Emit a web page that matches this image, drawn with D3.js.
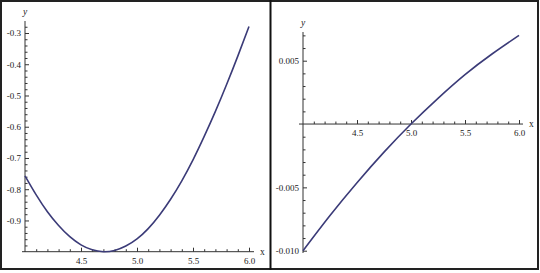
<!DOCTYPE html>
<html>
<head>
<meta charset="utf-8">
<script src="https://cdn.jsdelivr.net/npm/d3@7"></script>
<style>
  body { margin: 0; background: #fff; }
  svg { display: block; }
  .tick text { font-family: "Liberation Serif", serif; font-size: 9px; fill: #1a1a1a; }
</style>
</head>
<body>
<div id="chart"></div>
<script>
// left panel : curve
let leftX = [4.0, 4.1, 4.2, 4.3, 4.4, 4.5, 4.6, 4.7, 4.8, 4.9, 5.0, 5.1, 5.2, 5.3, 5.4, 5.5, 5.6, 5.7, 5.8, 5.9, 6.0];
let leftY = [-0.757, -0.818, -0.872, -0.916, -0.952, -0.978, -0.994, -1.000, -0.996, -0.982, -0.959, -0.926, -0.883, -0.832, -0.773, -0.706, -0.631, -0.551, -0.465, -0.374, -0.279];
let leftXTicks = [4.5, 5.0, 5.5, 6.0];
let leftXTickLabels = ["4.5", "5.0", "5.5", "6.0"];
let leftYTicks = [-0.9, -0.8, -0.7, -0.6, -0.5, -0.4, -0.3];
let leftYTickLabels = ["-0.9", "-0.8", "-0.7", "-0.6", "-0.5", "-0.4", "-0.3"];

// right panel
let rightX = [4.0, 4.25, 4.5, 4.75, 5.0, 5.25, 5.5, 5.75, 6.0];
let rightY = [-0.0100, -0.00722, -0.00463, -0.00222, 0, 0.00203, 0.0039, 0.00553, 0.0070];
let rightXTicks = [4.5, 5.0, 5.5, 6.0];
let rightXTickLabels = ["4.5", "5.0", "5.5", "6.0"];
let rightYTicks = [-0.010, -0.005, 0.005];
let rightYTickLabels = ["-0.010", "-0.005", "0.005"];

let w = 540;
let h = 273;
let curveColor = "#3b3b78";
let axisColor = "#333";

let svg = d3.select("#chart").append("svg")
  .attr("width", w)
  .attr("height", h);

svg.append("rect").attr("width", w).attr("height", h).attr("fill", "#fff");

// minor ticks between majors
function minorTicks(from, to, step, majors){
  let out = [];
  let n = Math.round((to - from) / step);
  for (let i = 0; i <= n; i++){
    let v = +(from + i * step).toFixed(6);
    if (!majors.some(m => Math.abs(m - v) < step / 10)) out.push(v);
  }
  return out;
}

function drawPanel(cfg){
  let g = svg.append("g");

  let x = d3.scaleLinear().domain([4, 6]).range(cfg.xRange);
  let y = d3.scaleLinear().domain(cfg.yDomain).range(cfg.yRange);

  // axis lines
  g.append("line")
    .attr("x1", cfg.xLine[0]).attr("x2", cfg.xLine[1])
    .attr("y1", y(cfg.xAxisAt)).attr("y2", y(cfg.xAxisAt))
    .attr("stroke", axisColor).attr("stroke-width", 1);
  g.append("line")
    .attr("x1", x(4)).attr("x2", x(4))
    .attr("y1", cfg.yLine[0]).attr("y2", cfg.yLine[1])
    .attr("stroke", axisColor).attr("stroke-width", 1);

  // x ticks (pointing up into the plot)
  let xMajor = d3.axisBottom(x)
    .tickValues(cfg.xTicks)
    .tickFormat((d, i) => cfg.xTickLabels[i])
    .tickSizeInner(-4).tickSizeOuter(0).tickPadding(8);
  let xMinor = d3.axisBottom(x)
    .tickValues(minorTicks(4.1, 5.9, 0.1, cfg.xTicks))
    .tickFormat("")
    .tickSizeInner(-2.5).tickSizeOuter(0);

  let gx = g.append("g").attr("transform", "translate(0," + y(cfg.xAxisAt) + ")").call(xMajor);
  let gxm = g.append("g").attr("transform", "translate(0," + y(cfg.xAxisAt) + ")").call(xMinor);

  // y ticks (pointing right into the plot)
  let yMajor = d3.axisLeft(y)
    .tickValues(cfg.yTicks)
    .tickFormat((d, i) => cfg.yTickLabels[i])
    .tickSizeInner(-4).tickSizeOuter(0).tickPadding(4);
  let yMinor = d3.axisLeft(y)
    .tickValues(cfg.yMinor)
    .tickFormat("")
    .tickSizeInner(-2.5).tickSizeOuter(0);

  let gy = g.append("g").attr("transform", "translate(" + x(4) + ",0)").call(yMajor);
  let gym = g.append("g").attr("transform", "translate(" + x(4) + ",0)").call(yMinor);

  [gx, gxm, gy, gym].forEach(a => {
    a.select(".domain").remove();
    a.selectAll("line").attr("stroke", axisColor);
  });
  gx.selectAll("text").attr("dy", "0.45em");

  // axis names
  g.append("text")
    .attr("x", cfg.xLine[1] + 6).attr("y", y(cfg.xAxisAt) + 3)
    .attr("font-family", "Liberation Serif, serif").attr("font-size", 9.5)
    .attr("fill", "#1a1a1a")
    .text("x");
  g.append("text")
    .attr("x", x(4) - 2).attr("y", cfg.yLine[1] - 6)
    .attr("font-family", "Liberation Serif, serif").attr("font-size", 9.5)
    .attr("font-style", "italic")
    .attr("fill", "#1a1a1a")
    .text("y");

  // curve
  let pts = cfg.xs.map((v, i) => [v, cfg.ys[i]]);
  let line = d3.line()
    .x(d => x(d[0]))
    .y(d => y(d[1]))
    .curve(d3.curveNatural);
  g.append("path")
    .datum(pts)
    .attr("d", line)
    .attr("fill", "none")
    .attr("stroke", curveColor)
    .attr("stroke-width", 1.6);
}

drawPanel({
  xs: leftX, ys: leftY,
  xRange: [25, 249],
  yDomain: [-1, -0.3], yRange: [251.7, 33],
  xAxisAt: -1,
  xLine: [22, 254],
  yLine: [252, 21],
  xTicks: leftXTicks, xTickLabels: leftXTickLabels,
  yTicks: leftYTicks, yTickLabels: leftYTickLabels,
  yMinor: minorTicks(-0.98, -0.28, 0.02, leftYTicks)
});

drawPanel({
  xs: rightX, ys: rightY,
  xRange: [303, 519],
  yDomain: [-0.01, 0.005], yRange: [250.7, 60.7],
  xAxisAt: 0,
  xLine: [299, 523],
  yLine: [253, 32],
  xTicks: rightXTicks, xTickLabels: rightXTickLabels,
  yTicks: rightYTicks, yTickLabels: rightYTickLabels,
  yMinor: minorTicks(-0.009, 0.007, 0.001, rightYTicks.concat([0]))
});

// frame and divider
svg.append("rect")
  .attr("x", 1).attr("y", 1)
  .attr("width", w - 3).attr("height", 268)
  .attr("fill", "none")
  .attr("stroke", "#222").attr("stroke-width", 2);
svg.append("line")
  .attr("x1", 270.5).attr("x2", 270.5)
  .attr("y1", 0).attr("y2", 270)
  .attr("stroke", "#111").attr("stroke-width", 2);
</script>
</body>
</html>
